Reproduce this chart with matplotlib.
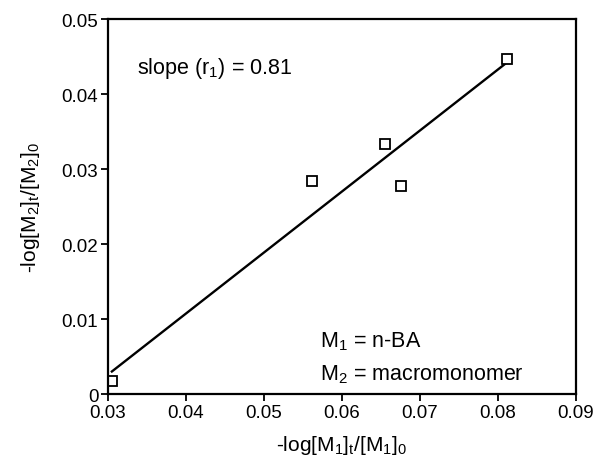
import numpy as np
import matplotlib
matplotlib.use("Agg")
import matplotlib.pyplot as plt

plt.rcParams['font.family'] = ['Liberation Sans', 'DejaVu Sans']
plt.rcParams['mathtext.fontset'] = 'custom'
plt.rcParams['mathtext.rm'] = 'Liberation Sans'
plt.rcParams['mathtext.it'] = 'Liberation Sans:italic'

# data
x = [0.0305, 0.0562, 0.0656, 0.0676, 0.0812]
y = [0.0017, 0.0284, 0.0333, 0.0277, 0.0447]
xticks = [0.03, 0.04, 0.05, 0.06, 0.07, 0.08, 0.09]
yticks = [0, 0.01, 0.02, 0.03, 0.04, 0.05]
ylabels = ["0", "0.01", "0.02", "0.03", "0.04", "0.05"]

fig = plt.figure(figsize=(5.94, 4.60), dpi=100)
ax = fig.add_axes([0.1818, 0.1413, 0.9690 - 0.1818, 0.9565 - 0.1413])

k, b = np.polyfit(x, y, 1)
xl = np.array([min(x), max(x)])
ax.plot(xl, k * xl + b, c="k", lw=1.7)
ax.plot(x, y, ls="none", marker="s", ms=7.5, mfc="white", mec="k", mew=1.3)

ax.set_xlim(0.03, 0.09)
ax.set_ylim(0, 0.05)
ax.set_xticks(xticks)
ax.set_xticklabels([f"{v:.2f}" for v in xticks])
ax.set_yticks(yticks)
ax.set_yticklabels(ylabels)
ax.tick_params(direction="out", length=5, width=1.3, labelsize=13.5, colors="k", pad=2)
for s in ax.spines.values():
    s.set_linewidth(1.6)

ax.set_xlabel(r"-log[M$_1$]$_\mathrm{t}$/[M$_1$]$_0$", fontsize=15, labelpad=9)
ax.set_ylabel(r"-log[M$_2$]$_\mathrm{t}$/[M$_2$]$_0$", fontsize=15, labelpad=14)

ax.text(0.0337, 0.0436, r"slope (r$_1$) = 0.81", fontsize=15.5, va="center")
ax.text(0.0572, 0.0071, r"M$_1$ = n-BA", fontsize=15.5, va="center")
ax.text(0.0572, 0.0027, r"M$_2$ = macromonomer", fontsize=15.5, va="center")

fig.savefig("out.png", dpi=100)
